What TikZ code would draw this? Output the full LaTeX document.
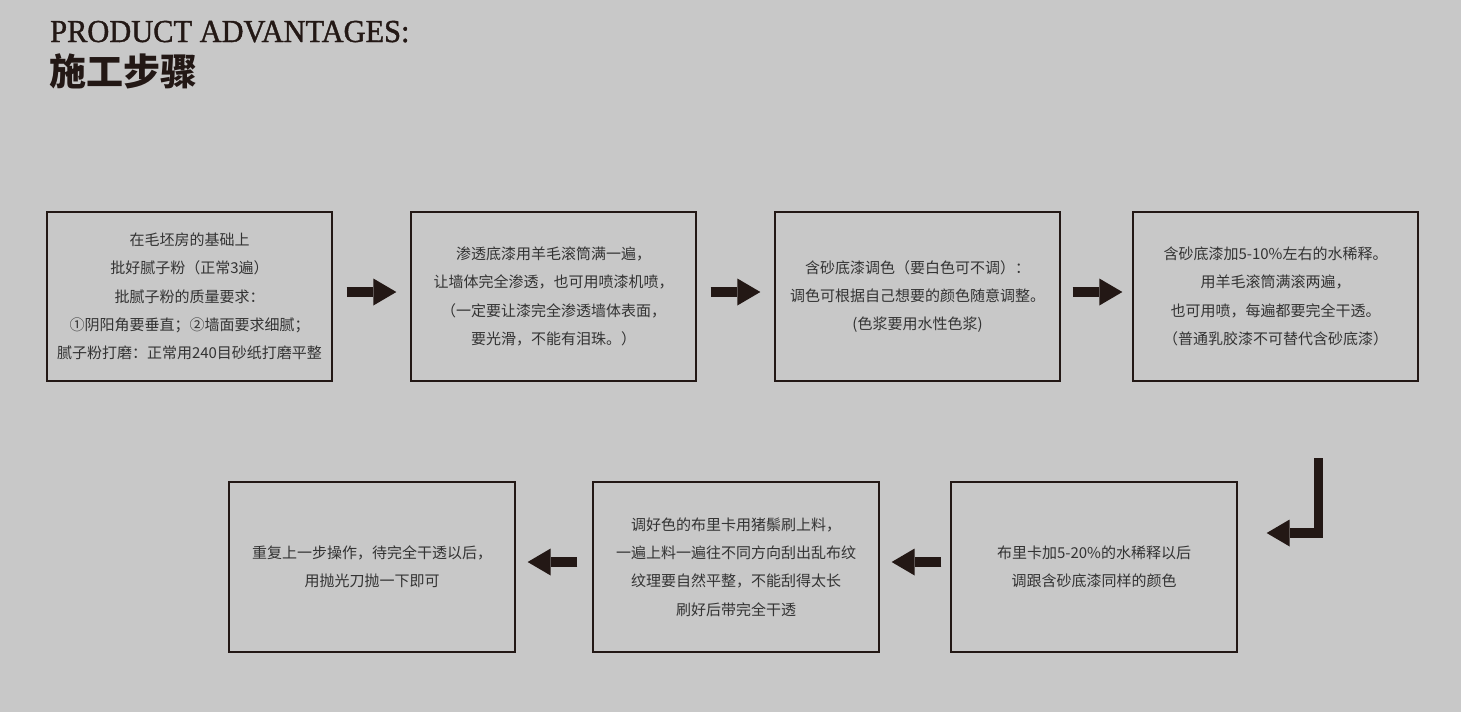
\documentclass[tikz,border=0pt]{standalone}
\usepackage{fontspec}
\setmainfont{Liberation Serif}
\newfontfamily\cjk{Noto Sans CJK SC}
\newfontfamily\headfont[FakeStretch=0.95,FakeBold=1.2]{Liberation Serif}
\usetikzlibrary{arrows.meta}
\definecolor{paper}{RGB}{200,200,200}
\definecolor{ink}{HTML}{231815}
\definecolor{body}{HTML}{333333}
\tikzset{stage/.style={draw=ink,rectangle, line width=1.3pt, minimum width=285pt, minimum height=169pt, inner sep=0pt, align=center, text=body, font=\cjk\fontsize{15}{28.3}\selectfont}}
\tikzset{lowstage/.style={stage, minimum width=286pt, minimum height=170pt}}
\tikzset{
		% thick block arrow between two stages
		blockarrow/.style={draw=ink, line width=9.5pt, line join=miter,
			-{Triangle[length=23pt,width=27pt,line width=0pt]},
			shorten <=14pt, shorten >=14pt},
	}

\begin{document}
\begin{tikzpicture}[x=1pt,y=-1pt]
		\fill[paper] (0,0) rectangle (1461,712);
		\node[anchor=base west, inner sep=0pt, text=ink, font=\headfont\fontsize{32}{36}\selectfont] (head) at (50,42) {PRODUCT ADVANTAGES:};
		\node[anchor=west, inner sep=0pt, text=ink, font=\cjk\bfseries\fontsize{37}{40}\selectfont] (title) at (49,71.5) {施工步骤};
		
		\node[stage] (s1) at (189.5,296.5) {在毛坯房的基础上\\批好腻子粉（正常3遍）\\批腻子粉的质量要求：\\①阴阳角要垂直；②墙面要求细腻；\\腻子粉打磨：正常用240目砂纸打磨平整};
		\node[stage] (s2) at (553.5,296.5) {渗透底漆用羊毛滚筒满一遍，\\让墙体完全渗透，也可用喷漆机喷，\\（一定要让漆完全渗透墙体表面，\\要光滑，不能有泪珠。）};
		\node[stage] (s3) at (917.5,296.5) {含砂底漆调色（要白色可不调）：\\调色可根据自己想要的颜色随意调整。\\(色浆要用水性色浆)};
		\node[stage] (s4) at (1275.5,296.5) {含砂底漆加5-10\%左右的水稀释。\\用羊毛滚筒满滚两遍，\\也可用喷，每遍都要完全干透。\\（普通乳胶漆不可替代含砂底漆）};
		\node[lowstage] (s5) at (1094,567) {布里卡加5-20\%的水稀释以后\\调跟含砂底漆同样的颜色};
		\node[lowstage] (s6) at (736,567) {调好色的布里卡用猪鬃刷上料，\\一遍上料一遍往不同方向刮出乱布纹\\纹理要自然平整，不能刮得太长\\刷好后带完全干透};
		\node[lowstage] (s7) at (372,567) {重复上一步操作，待完全干透以后，\\用抛光刀抛一下即可};
		
		\coordinate (drop) at (1318.5,458);
		\coordinate (bend) at (1318.5,533);
		
		\draw[blockarrow] ([yshift=4.5pt]s1.east) -- ([yshift=4.5pt]s2.west);
		\draw[blockarrow] ([yshift=4.5pt]s2.east) -- ([yshift=4.5pt]s3.west);
		\draw[blockarrow, shorten <=12pt, shorten >=10pt] ([yshift=4.5pt]s3.east) -- ([yshift=4.5pt]s4.west);
		\draw[blockarrow, shorten <=0pt, shorten >=29pt] (drop) -- (bend) -- (s5.east |- bend);
		\draw[blockarrow, shorten <=9pt, shorten >=12pt] ([yshift=5pt]s5.west) -- ([yshift=5pt]s6.east);
		\draw[blockarrow, shorten <=15pt, shorten >=12pt] ([yshift=5pt]s6.west) -- ([yshift=5pt]s7.east);
		
		\end{tikzpicture}
\end{document}
